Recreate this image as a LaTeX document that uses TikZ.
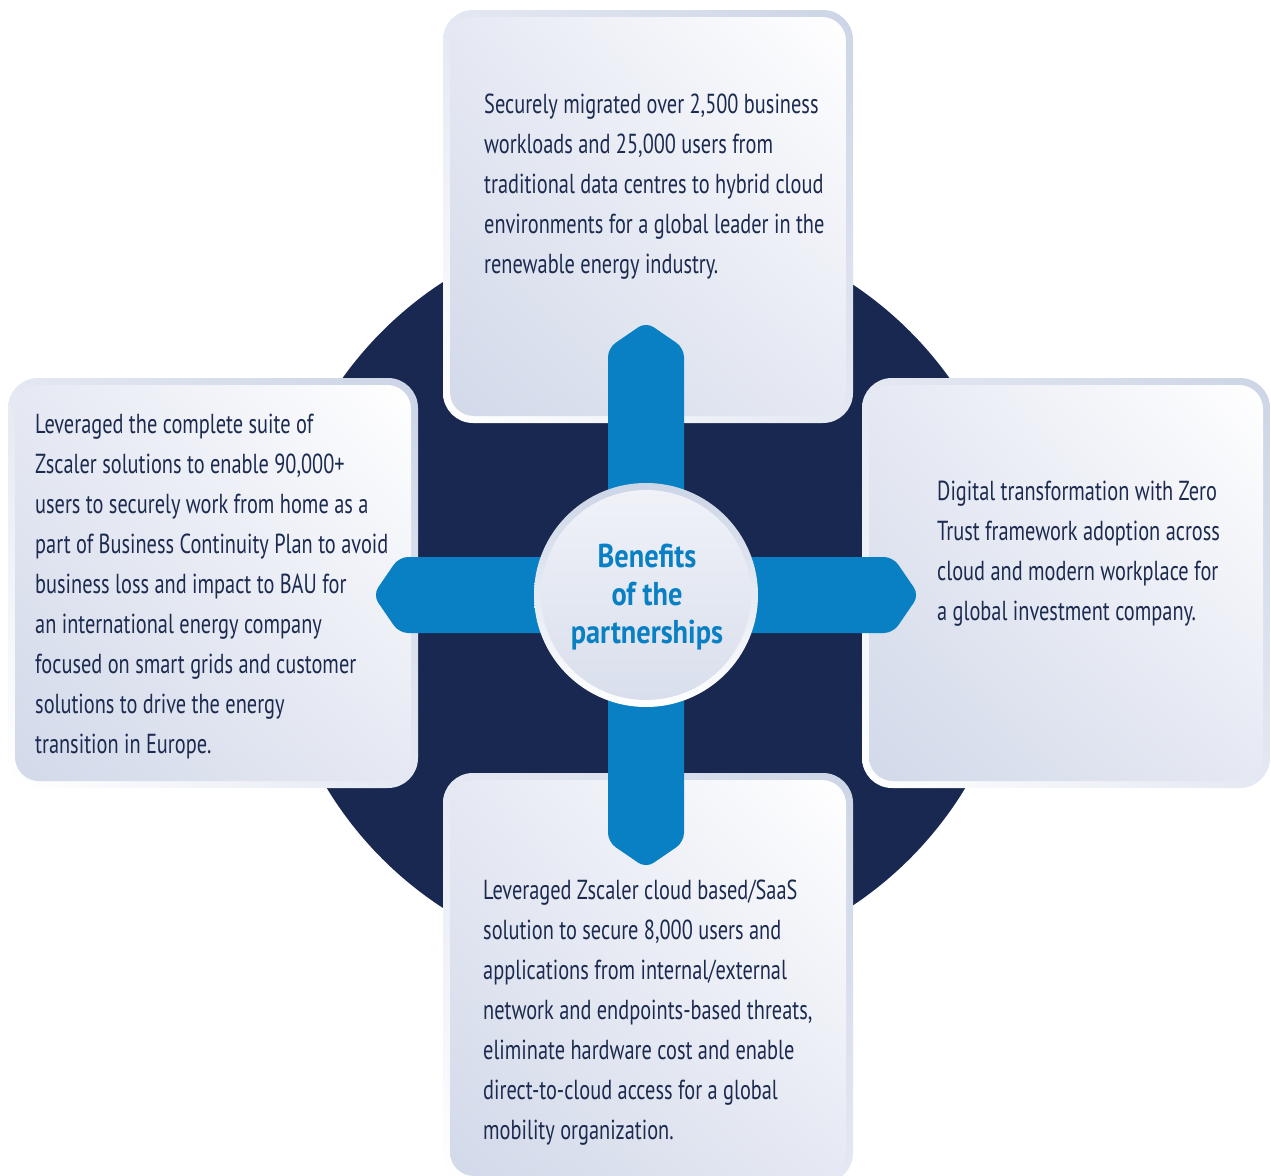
\documentclass[tikz,border=0pt]{standalone}
\usepackage{fontspec}
\usetikzlibrary{shadings}
\newfontfamily\bodyfont{PT Sans}[FakeStretch=0.74]
\newfontfamily\titlefont{PT Sans}[FakeStretch=0.86]
\definecolor{navy}{HTML}{182850}
\definecolor{armblue}{HTML}{0A80C4}
\definecolor{txt}{HTML}{1B2A4E}
\definecolor{rimc}{HTML}{CCD5E6}
\definecolor{rimm}{HTML}{E4E8F2}
\definecolor{fillc}{HTML}{D2D9E9}
\definecolor{fillm}{HTML}{E6E9F3}
\tikzset{
  cardrim/.style={rounded corners=30pt, lower left=white, upper right=rimc, upper left=rimm, lower right=rimm},
  cardfill/.style={rounded corners=24pt, lower left=fillc, upper right=white, upper left=fillm, lower right=fillm},
  bodytext/.style={font=\bodyfont\fontsize{27.5}{40}\selectfont, text=txt, align=left, anchor=west, inner sep=0pt},
  arm/.style={fill=armblue, rounded corners=9pt}
}
\begin{document}
\begin{tikzpicture}[x=1pt,y=-1pt]
\useasboundingbox (0,0) rectangle (1271,1175);
% dark background disc
\fill[navy] (646,595) circle (373);
% cards
\shade[cardrim] (443,10) rectangle (853,423);
\shade[cardfill] (450,17) rectangle (846,416);
\shade[cardrim] (8,378) rectangle (418,788);
\shade[cardfill] (15,385) rectangle (411,781);
\shade[cardrim] (862,378) rectangle (1270,788);
\shade[cardfill] (869,385) rectangle (1263,781);
\shade[cardrim] (443,773) rectangle (853,1183);
\shade[cardfill] (450,780) rectangle (846,1176);
% arms
\fill[arm] (608,348) -- (646,322) -- (684,348) -- (684,842) -- (646,868) -- (608,842) -- cycle;
\fill[arm] (399,557) -- (893,557) -- (919,595) -- (893,633) -- (399,633) -- (373,595) -- cycle;
% hub
\node[circle, minimum size=224pt, inner sep=0pt, top color=rimc, bottom color=white] (hub) at (646,595) {};
\node[circle, minimum size=210pt, inner sep=0pt, top color=fillm!60!white, bottom color=fillc!85!white] (hubin) at (hub.center) {};
\node[font=\titlefont\bfseries\fontsize{33}{38}\selectfont, text=armblue, align=center, inner sep=0pt] (title) at (647,597) {Benefits\\of the\\partnerships};
% texts
\node[bodytext] (ttop) at (484,187) {Securely migrated over 2,500 business\\workloads and 25,000 users from\\traditional data centres to hybrid cloud\\environments for a global leader in the\\renewable energy industry.};
\node[bodytext] (tleft) at (35,587) {Leveraged the complete suite of\\Zscaler solutions to enable 90,000+\\users to securely work from home as a\\part of Business Continuity Plan to avoid\\business loss and impact to BAU for\\an international energy company\\focused on smart grids and customer\\solutions to drive the energy\\transition in Europe.};
\node[bodytext] (tright) at (937,554) {Digital transformation with Zero\\Trust framework adoption across\\cloud and modern workplace for\\a global investment company.};
\node[bodytext] (tbottom) at (483,1013) {Leveraged Zscaler cloud based/SaaS\\solution to secure 8,000 users and\\applications from internal/external\\network and endpoints-based threats,\\eliminate hardware cost and enable\\direct-to-cloud access for a global\\mobility organization.};
\end{tikzpicture}
\end{document}
